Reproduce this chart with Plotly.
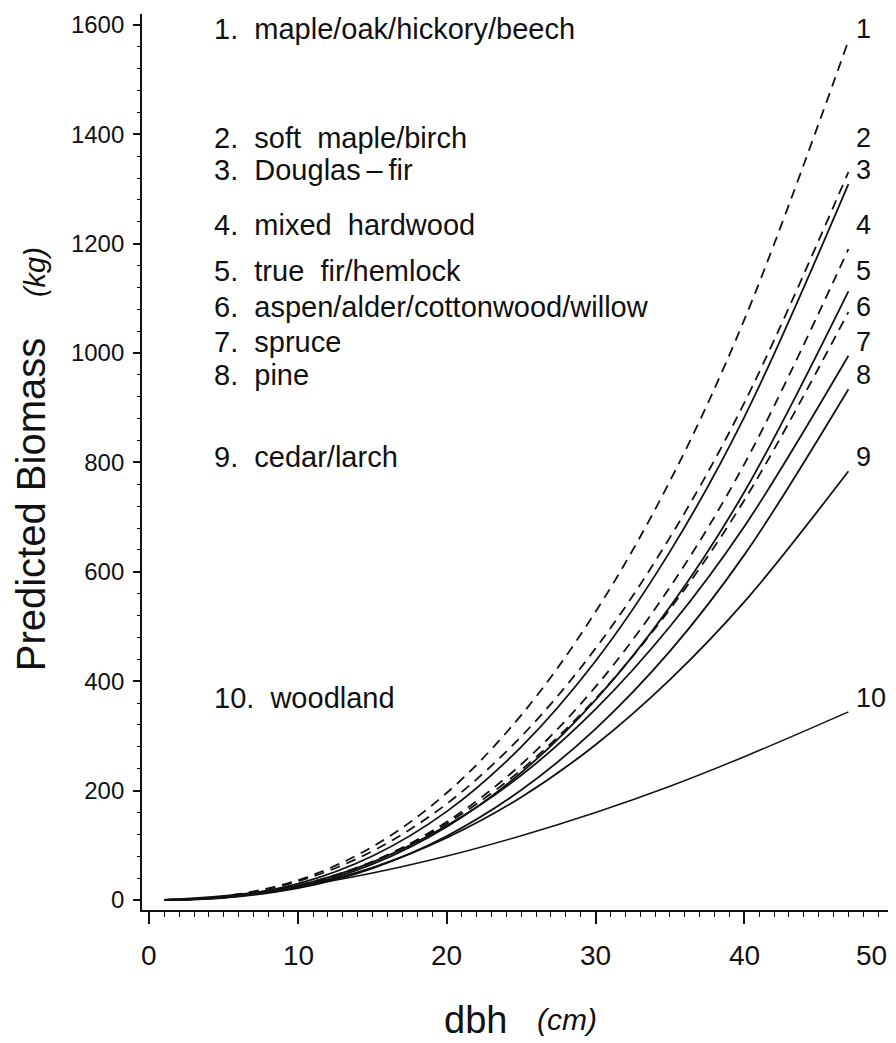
import plotly.graph_objects as go

# ---- data ----
dbh = [1, 5, 10, 15, 20, 25, 30, 35, 40, 47]

group_names = [
    "maple/oak/hickory/beech",
    "soft\u00a0 maple/birch",
    "Douglas\u2009\u2013\u2009fir",
    "mixed\u00a0 hardwood",
    "true\u00a0 fir/hemlock",
    "aspen/alder/cottonwood/willow",
    "spruce",
    "pine",
    "cedar/larch",
    "woodland",
]

s1 = [0.13, 6.7, 36.3, 97.5, 196, 338, 527, 766, 1061, 1571]
s2 = [0.15, 6.6, 34.3, 89.4, 176, 299, 460, 663, 909, 1331]
s3 = [0.11, 5.5, 29.8, 80.4, 162, 280, 437, 637, 883, 1309]
s4 = [0.08, 4.6, 25.5, 69.8, 143, 248, 390, 572, 797, 1190]
s5 = [0.08, 4.3, 23.9, 65.5, 134, 233, 366, 536, 746, 1113]
s6 = [0.11, 5.1, 26.7, 70.4, 140, 238, 368, 532, 731, 1075]
s7 = [0.13, 5.3, 26.9, 69.3, 136, 228, 349, 500, 683, 995]
s8 = [0.08, 4.0, 21.6, 57.9, 117, 201, 313, 455, 631, 934]
s9 = [0.13, 5.0, 23.8, 59.4, 114, 188, 284, 403, 545, 784]
s10 = [0.49, 7.6, 24.7, 49.2, 80.3, 117.5, 160, 208, 262, 344]
series = [s1, s2, s3, s4, s5, s6, s7, s8, s9, s10]

dashed = [True, True, False, True, False, True, False, False, False, False]

curve_labels = ["1", "2", "3", "4", "5", "6", "7", "8", "9", "10"]
label_y = [1593, 1393, 1334, 1234, 1150, 1085, 1020, 960, 810, 370]

x_ticks = [0, 10, 20, 30, 40, 50]
x_ticktext = ["0", "10", "20", "30", "40", "50"]
y_ticks = [0, 200, 400, 600, 800, 1000, 1200, 1400, 1600]

# ---- figure ----
FONT = "Liberation Sans, Arial, Helvetica, sans-serif"
INK = "#111111"

fig = go.Figure()
for i, ys in enumerate(series):
    fig.add_trace(go.Scatter(
        x=dbh, y=ys, mode="lines",
        line=dict(color=INK, width=1.8 if i < 9 else 1.5,
                  dash="10px,7px" if dashed[i] else "solid",
                  shape="spline", smoothing=1.0),
        name=group_names[i], showlegend=False, hoverinfo="skip",
    ))

annotations = []
# legend-like list on the left
for i, name in enumerate(group_names):
    annotations.append(dict(
        x=4.2, y=label_y[i], xref="x", yref="y",
        text=f"{curve_labels[i]}.\u00a0 {name}", showarrow=False,
        xanchor="left", yanchor="middle",
        font=dict(family=FONT, size=29, color=INK),
    ))
# curve number labels at the right end
for i, lab in enumerate(curve_labels):
    annotations.append(dict(
        x=47.4, y=label_y[i], xref="x", yref="y",
        text=lab, showarrow=False, xanchor="left", yanchor="middle",
        font=dict(family=FONT, size=27, color=INK),
    ))
# x tick labels (the last one sits inside the page edge, as in the original)
for j, (tv, tt) in enumerate(zip(x_ticks, x_ticktext)):
    last = j == len(x_ticks) - 1
    annotations.append(dict(
        x=tv, y=-0.031, xref="x", yref="paper", text=tt, showarrow=False,
        xanchor="right" if last else "center", yanchor="top",
        xshift=-4 if last else 0,
        font=dict(family=FONT, size=28, color=INK),
    ))
# axis titles
annotations += [
    dict(x=-0.147, y=722, xref="paper", yref="y", text="Predicted Biomass",
         textangle=-90, showarrow=False, xanchor="center", yanchor="middle",
         font=dict(family=FONT, size=40, color=INK)),
    dict(x=-0.142, y=1148, xref="paper", yref="y", text="<i>(kg)</i>",
         textangle=-90, showarrow=False, xanchor="center", yanchor="middle",
         font=dict(family=FONT, size=29, color=INK)),
    dict(x=0.442, y=-0.1225, xref="paper", yref="paper", text="dbh",
         showarrow=False, xanchor="center", yanchor="middle",
         font=dict(family=FONT, size=38, color=INK)),
    dict(x=0.564, y=-0.1225, xref="paper", yref="paper", text="<i>(cm)</i>",
         showarrow=False, xanchor="center", yanchor="middle",
         font=dict(family=FONT, size=30, color=INK)),
]

# the page places the plot 8 px in from the top-left corner
fig.update_layout(
    width=888, height=1035,
    margin=dict(l=133.6, r=0, t=6, b=133, pad=0, autoexpand=False),
    paper_bgcolor="white", plot_bgcolor="white",
    showlegend=False,
    annotations=annotations,
    font=dict(family=FONT, color=INK),
)
fig.update_xaxes(
    range=[-0.5, 50.2], showgrid=False, zeroline=False, automargin=False,
    showline=True, linecolor=INK, linewidth=1.8,
    tickmode="array", tickvals=x_ticks, showticklabels=False,
    ticks="outside", ticklen=12, tickwidth=1.5, tickcolor=INK,
    minor=dict(dtick=1, ticks="outside", ticklen=5, tickwidth=1.2, tickcolor=INK, showgrid=False),
)
fig.update_yaxes(
    range=[-18.3, 1620], showgrid=False, zeroline=False, automargin=False,
    showline=True, linecolor=INK, linewidth=1.8,
    tickmode="array", tickvals=y_ticks,
    ticks="outside", ticklen=7, tickwidth=1.5, tickcolor=INK,
    ticklabelstandoff=4,
    tickfont=dict(family=FONT, size=24, color=INK),
    minor=dict(dtick=40, ticks="outside", ticklen=3, tickwidth=1.2, tickcolor=INK, showgrid=False),
)

fig.write_html("out.html")
